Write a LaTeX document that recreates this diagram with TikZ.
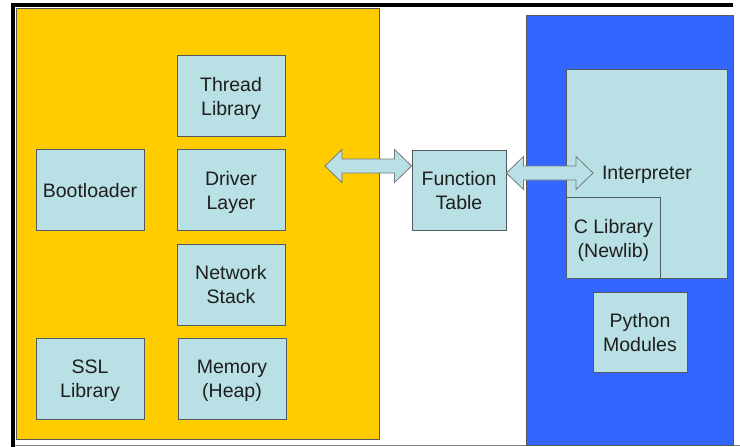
\documentclass[tikz,border=0pt]{standalone}
\usepackage{fontspec}
\setmainfont{Liberation Sans}
\usetikzlibrary{calc}
\definecolor{yel}{RGB}{255,204,0}
\definecolor{blu}{RGB}{51,102,255}
\definecolor{boxfill}{RGB}{185,224,228}
\definecolor{boxline}{RGB}{80,90,95}
\definecolor{txt}{RGB}{30,30,30}
\begin{document}
\begin{tikzpicture}[x=1pt,y=-1pt,
  box/.style={draw=boxline,fill=boxfill,line width=0.9pt,inner sep=0pt,align=center,
    font=\fontsize{19.5}{24}\selectfont,text=txt,text depth=0pt,minimum width=108pt,minimum height=81pt},
  region/.style={draw=gray!70!black,line width=0.6pt},
  dblarrow/.style={draw=boxline!80,fill=boxfill,line width=0.8pt,line join=miter}]
\useasboundingbox (0,0) rectangle (740,447);
\fill[white] (0,0) rectangle (740,447);
% frame
\draw[gray,line width=0.8pt] (13,445) -- (740,445);
\draw[black,line width=4pt] (13,447) -- (13,5) -- (733,5);
% regions
\node[region,fill=yel,minimum width=363pt,minimum height=431pt,inner sep=0pt,anchor=north west] (os) at (16,8) {};
\node[region,fill=blu,minimum width=207pt,minimum height=430pt,inner sep=0pt,anchor=north west] (py) at (526,15) {};
% left boxes
\node[box] (thread) at (231,96) {Thread\\Library};
\node[box] (driver) at (231,190) {Driver\\Layer};
\node[box] (boot) at (90,190) {Bootloader};
\node[box] (net) at (231,284.5) {Network\\Stack};
\node[box] (ssl) at (90,378.5) {SSL\\Library};
\node[box] (mem) at (232,378.5) {Memory\\(Heap)};
% middle
\node[box,minimum width=94pt,minimum height=80pt] (ft) at (459,190) {Function\\Table};
% right
\node[box,minimum width=161pt,minimum height=209pt,anchor=north west] (interp) at (566,69) {};
\node[box,minimum width=94pt,minimum height=81pt,anchor=north west] (clib) at (566,197) {C Library\\(Newlib)};
\node[box,minimum width=94pt,minimum height=80pt] (pym) at (640,332) {Python\\Modules};
% arrows
\coordinate (la) at (325,166);
\coordinate (ra) at (593,173);
\draw[dblarrow] let \p1=(la), \p2=(ft.west) in
  (\x1,\y1) -- (\x1+17pt,\y1+16.5pt) -- (\x1+17pt,\y1+7pt) -- (\x2-17pt,\y1+7pt) -- (\x2-17pt,\y1+16.5pt)
  -- (\x2,\y1) -- (\x2-17pt,\y1-16.5pt) -- (\x2-17pt,\y1-7pt) -- (\x1+17pt,\y1-7pt) -- (\x1+17pt,\y1-16.5pt) -- cycle;
\draw[dblarrow] let \p1=(ft.east), \p2=(ra) in
  (\x1,\y2) -- (\x1+17pt,\y2+16.5pt) -- (\x1+17pt,\y2+7pt) -- (\x2-17pt,\y2+7pt) -- (\x2-17pt,\y2+16.5pt)
  -- (\x2,\y2) -- (\x2-17pt,\y2-16.5pt) -- (\x2-17pt,\y2-7pt) -- (\x1+17pt,\y2-7pt) -- (\x1+17pt,\y2-16.5pt) -- cycle;
\node[font=\fontsize{19.5}{24}\selectfont,text=txt,text depth=0pt] (interptext) at (647,173) {Interpreter};
\end{tikzpicture}
\end{document}
